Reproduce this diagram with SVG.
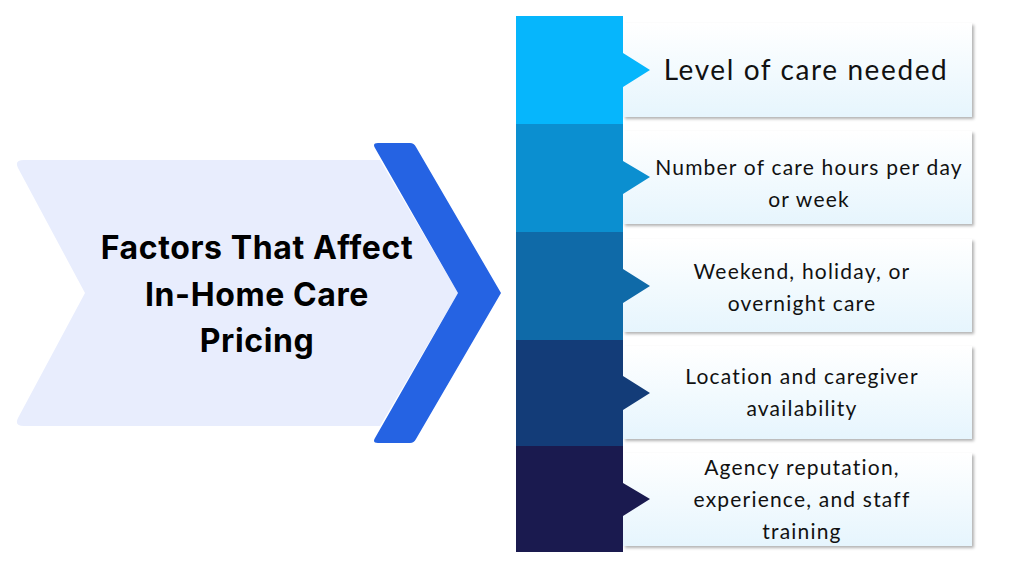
<svg xmlns="http://www.w3.org/2000/svg" width="1024" height="576" viewBox="0 0 1024 576">
<style>
.t{font-family:"Lato","Noto Sans",sans-serif;fill:#111;text-anchor:middle;font-size:21px;letter-spacing:1.2px}
.big{font-size:28px;letter-spacing:1.6px}
.h{font-family:"Inter","Liberation Sans",sans-serif;font-weight:700;font-size:32px;letter-spacing:0.6px;fill:#000;text-anchor:middle}
.card{fill:url(#g);filter:url(#sh)}
</style>
<defs>
<linearGradient id="g" x1="0" y1="0" x2="0" y2="1"><stop offset="0" stop-color="#ffffff"/><stop offset="1" stop-color="#e6f5fd"/></linearGradient>
<filter id="sh" x="-5%" y="-10%" width="115%" height="130%"><feDropShadow dx="2" dy="2" stdDeviation="1.5" flood-color="#000" flood-opacity="0.3"/></filter>
</defs>
<rect width="1024" height="576" fill="#fff"/>
<g id="main">
<path d="M24,160 L380,160 L458,293 L380,426 L24,426 Q14,426 18,418 L85,293 L18,168 Q14,160 24,160 Z" fill="#E8EDFD"/>
<path d="M378,143 L410,143 Q414,143 416,147 L501,293 L416,439 Q414,443 410,443 L378,443 Q372,443 375,438 L458,293 L375,148 Q372,143 378,143 Z" fill="#2563E3"/>
<text class="h" x="257" y="259">Factors That Affect</text>
<text class="h" x="257" y="306">In-Home Care</text>
<text class="h" x="257" y="352">Pricing</text>
</g>
<g id="row1">
<rect class="card" x="623" y="23" width="349" height="94"/>
<path d="M516,16 H623 V53 L650,70 L623,87 V124 H516 Z" fill="#06B6FC"/>
<text class="t big" x="806" y="80">Level of care needed</text>
</g>
<g id="row2">
<rect class="card" x="623" y="131" width="349" height="93"/>
<path d="M516,124 H623 V161 L650,177 L623,194 V232 H516 Z" fill="#0B8FD0"/>
<text class="t" x="809" y="175">Number of care hours per day</text>
<text class="t" x="809" y="207">or week</text>
</g>
<g id="row3">
<rect class="card" x="623" y="239" width="349" height="93"/>
<path d="M516,232 H623 V269 L650,286 L623,303 V340 H516 Z" fill="#0F6AA8"/>
<text class="t" x="802" y="279">Weekend, holiday, or</text>
<text class="t" x="802" y="311">overnight care</text>
</g>
<g id="row4">
<rect class="card" x="623" y="346" width="349" height="93"/>
<path d="M516,340 H623 V376 L650,393 L623,410 V446 H516 Z" fill="#133C78"/>
<text class="t" x="802" y="384">Location and caregiver</text>
<text class="t" x="802" y="416">availability</text>
</g>
<g id="row5">
<rect class="card" x="623" y="453" width="349" height="93"/>
<path d="M516,446 H623 V483 L650,499 L623,516 V552 H516 Z" fill="#1A1A4F"/>
<text class="t" x="802" y="475">Agency reputation,</text>
<text class="t" x="802" y="507">experience, and staff</text>
<text class="t" x="802" y="539">training</text>
</g>
<g id="connectors"/>
</svg>
